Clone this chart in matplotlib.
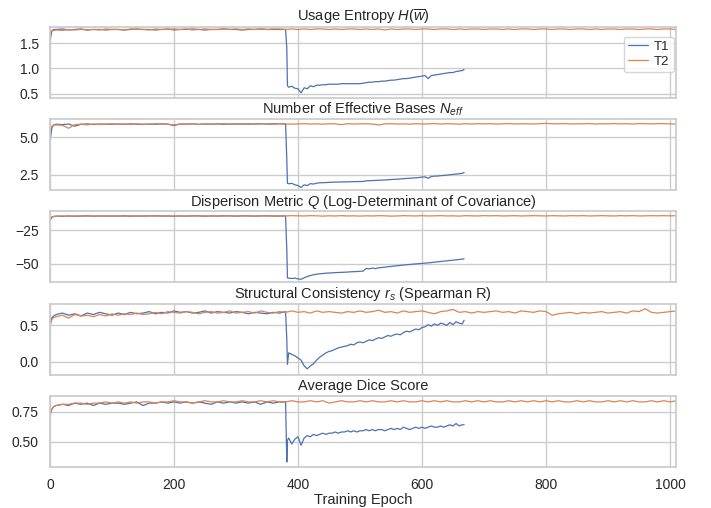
import numpy as np
import matplotlib
matplotlib.use("Agg")
import matplotlib.pyplot as plt
import seaborn as sns

epochs_t1 = [0, 3, 6] + list(range(10, 381, 10)) + [382, 383] + list(range(385, 666, 5)) + [668]
epochs_t2 = [0, 3, 6] + list(range(10, 1011, 10))

entropy_t1 = [1.55, 1.74, 1.77,
              1.77, 1.78, 1.76, 1.77, 1.78, 1.76, 1.77, 1.77, 1.76, 1.77,
              1.77, 1.76, 1.77, 1.78, 1.77, 1.77, 1.76, 1.77, 1.78, 1.76,
              1.77, 1.77, 1.78, 1.77, 1.76, 1.77, 1.77, 1.78, 1.77, 1.77,
              1.76, 1.77, 1.77, 1.78, 1.77, 1.77, 1.77, 1.77,
              1.40, 0.66,
              0.63, 0.65, 0.61, 0.60, 0.52, 0.62, 0.60, 0.66, 0.64, 0.67,
              0.67, 0.68, 0.68, 0.69, 0.69, 0.69, 0.69, 0.70, 0.70, 0.70,
              0.70, 0.70, 0.70, 0.70, 0.71, 0.72, 0.73, 0.73, 0.74, 0.74,
              0.75, 0.75, 0.76, 0.77, 0.77, 0.78, 0.79, 0.80, 0.80, 0.81,
              0.82, 0.83, 0.84, 0.85, 0.86, 0.80, 0.86, 0.87, 0.88, 0.89,
              0.90, 0.91, 0.92, 0.92, 0.94, 0.95, 0.96,
              0.98]
entropy_t2 = [1.70, 1.74, 1.75,
              1.76, 1.75, 1.77, 1.76, 1.77, 1.76, 1.77, 1.76, 1.78, 1.77,
              1.77, 1.76, 1.78, 1.77, 1.77, 1.76, 1.78, 1.77, 1.77, 1.78,
              1.77, 1.78, 1.76, 1.77, 1.78, 1.77, 1.77, 1.78, 1.77, 1.78,
              1.77, 1.78, 1.77, 1.78, 1.77, 1.78, 1.78, 1.77, 1.78, 1.77,
              1.78, 1.77, 1.78, 1.78, 1.77, 1.78, 1.77, 1.78, 1.78, 1.77,
              1.78, 1.77, 1.78, 1.76, 1.78, 1.77, 1.78, 1.78, 1.77, 1.78,
              1.78, 1.77, 1.78, 1.78, 1.77, 1.78, 1.77, 1.78, 1.78, 1.77,
              1.78, 1.78, 1.77, 1.78, 1.77, 1.78, 1.78, 1.77, 1.78, 1.78,
              1.77, 1.78, 1.78, 1.77, 1.78, 1.78, 1.77, 1.78, 1.77, 1.78,
              1.78, 1.77, 1.78, 1.78, 1.77, 1.78, 1.78, 1.77, 1.78, 1.78,
              1.77]

neff_t1 = [4.75, 5.60, 5.80,
           5.85, 5.82, 5.86, 5.72, 5.84, 5.87, 5.83, 5.86, 5.85, 5.84,
           5.86, 5.84, 5.87, 5.85, 5.83, 5.86, 5.84, 5.87, 5.85, 5.76,
           5.86, 5.85, 5.87, 5.84, 5.86, 5.85, 5.87, 5.84, 5.86, 5.85,
           5.87, 5.85, 5.86, 5.88, 5.86, 5.87, 5.88, 5.86,
           3.50, 1.95,
           1.92, 1.95, 1.85, 1.80, 1.68, 1.85, 1.80, 1.93, 1.90, 1.96,
           1.98, 1.99, 2.00, 2.01, 2.02, 2.03, 2.03, 2.04, 2.04, 2.05,
           2.05, 2.06, 2.06, 2.07, 2.07, 2.11, 2.12, 2.13, 2.14, 2.15,
           2.16, 2.17, 2.18, 2.20, 2.21, 2.22, 2.24, 2.25, 2.27, 2.28,
           2.30, 2.31, 2.33, 2.36, 2.37, 2.28, 2.40, 2.42, 2.43, 2.45,
           2.47, 2.49, 2.51, 2.54, 2.56, 2.58, 2.61,
           2.66]
neff_t2 = [5.50, 5.70, 5.78,
           5.80, 5.78, 5.58, 5.82, 5.85, 5.80, 5.86, 5.83, 5.85, 5.87,
           5.84, 5.86, 5.83, 5.87, 5.85, 5.84, 5.88, 5.86, 5.85, 5.80,
           5.86, 5.84, 5.88, 5.83, 5.87, 5.85, 5.86, 5.88, 5.84, 5.87,
           5.86, 5.88, 5.85, 5.87, 5.86, 5.84, 5.88, 5.86, 5.85, 5.87,
           5.88, 5.86, 5.87, 5.85, 5.88, 5.87, 5.82, 5.88, 5.86, 5.87,
           5.88, 5.86, 5.80, 5.87, 5.88, 5.86, 5.87, 5.85, 5.88, 5.86,
           5.87, 5.89, 5.86, 5.88, 5.87, 5.85, 5.88, 5.86, 5.88, 5.87,
           5.88, 5.86, 5.87, 5.89, 5.86, 5.88, 5.87, 5.86, 5.88, 5.90,
           5.88, 5.87, 5.89, 5.86, 5.88, 5.87, 5.89, 5.86, 5.88, 5.87,
           5.89, 5.87, 5.88, 5.86, 5.89, 5.88, 5.87, 5.89, 5.88, 5.87,
           5.86]

q_t1 = [-17.5, -15.2, -14.6,
        -14.3, -14.5, -14.2, -14.4, -14.3, -14.1, -14.4, -14.2, -14.3, -14.2,
        -14.3, -14.1, -14.4, -14.2, -14.3, -14.2, -14.1, -14.3, -14.2, -14.4,
        -14.2, -14.3, -14.1, -14.2, -14.4, -14.2, -14.3, -14.1, -14.2, -14.3,
        -14.1, -14.2, -14.3, -14.2, -14.1, -14.3, -14.2, -14.2,
        -40.0, -60.5,
        -60.8, -61.0, -60.7, -61.3, -61.6, -60.5, -59.5, -58.8, -58.2, -57.8,
        -57.5, -57.3, -57.0, -56.9, -56.8, -56.6, -56.5, -56.4, -56.3, -56.2,
        -56.0, -55.9, -55.8, -55.6, -55.5, -53.5, -53.8, -53.2, -53.6, -53.0,
        -52.8, -52.5, -52.2, -52.0, -51.7, -51.5, -51.2, -51.0, -50.7, -50.5,
        -50.3, -50.1, -49.9, -49.7, -49.5, -49.3, -49.1, -48.8, -48.5, -48.3,
        -48.0, -47.8, -47.5, -47.3, -47.0, -46.8, -46.5,
        -46.3]
q_t2 = [-16.0, -14.9, -14.6,
        -14.4, -14.2, -14.5, -14.3, -14.1, -14.4, -14.2, -14.3, -14.1, -14.3,
        -14.2, -14.4, -14.1, -14.3, -14.2, -14.0, -14.3, -14.1, -14.2, -14.4,
        -14.1, -14.3, -14.2, -14.0, -14.2, -14.3, -14.1, -14.2, -14.0, -14.3,
        -14.2, -14.1, -14.3, -14.0, -14.2, -14.1, -14.3, -14.2, -14.0, -14.1,
        -14.2, -14.0, -14.1, -14.3, -14.1, -14.2, -14.0, -14.2, -14.1, -14.3,
        -14.1, -14.2, -14.0, -14.1, -14.3, -14.2, -14.0, -14.1, -14.2, -14.0,
        -14.2, -14.1, -14.0, -14.2, -14.1, -14.3, -14.0, -14.1, -14.2, -14.0,
        -14.1, -14.0, -14.2, -14.1, -14.0, -14.2, -14.1, -14.0, -14.1, -14.2,
        -14.0, -14.1, -14.2, -14.0, -14.1, -14.0, -14.2, -14.1, -14.0, -14.1,
        -14.2, -14.0, -14.1, -14.0, -14.2, -14.1, -14.0, -14.1, -14.0, -14.1,
        -14.0]

rs_t1 = [0.50, 0.60, 0.63,
         0.65, 0.67, 0.64, 0.66, 0.63, 0.67, 0.65, 0.68, 0.66, 0.64,
         0.67, 0.65, 0.68, 0.66, 0.67, 0.69, 0.66, 0.68, 0.67, 0.70,
         0.68, 0.69, 0.67, 0.68, 0.70, 0.67, 0.69, 0.68, 0.67, 0.69,
         0.68, 0.66, 0.68, 0.67, 0.66, 0.68, 0.67, 0.69,
         0.30, -0.04,
         0.12, 0.10, 0.08, 0.05, 0.02, -0.06, -0.10, -0.06, -0.03, 0.02,
         0.06, 0.09, 0.12, 0.14, 0.15, 0.17, 0.19, 0.20, 0.21, 0.22,
         0.24, 0.23, 0.26, 0.27, 0.26, 0.28, 0.30, 0.29, 0.31, 0.33,
         0.32, 0.34, 0.36, 0.35, 0.37, 0.38, 0.37, 0.40, 0.42, 0.41,
         0.43, 0.45, 0.44, 0.47, 0.48, 0.51, 0.49, 0.52, 0.50, 0.53,
         0.52, 0.50, 0.54, 0.51, 0.55, 0.53, 0.52,
         0.57]
rs_t2 = [0.50, 0.58, 0.61,
         0.62, 0.64, 0.60, 0.65, 0.63, 0.64, 0.62, 0.65, 0.63, 0.66,
         0.64, 0.66, 0.65, 0.67, 0.65, 0.66, 0.68, 0.66, 0.69, 0.68,
         0.67, 0.69, 0.68, 0.66, 0.68, 0.69, 0.67, 0.68, 0.70, 0.67,
         0.68, 0.69, 0.67, 0.70, 0.68, 0.67, 0.69, 0.68, 0.70, 0.68,
         0.69, 0.67, 0.70, 0.68, 0.69, 0.68, 0.67, 0.69, 0.68, 0.70,
         0.68, 0.69, 0.71, 0.68, 0.69, 0.67, 0.70, 0.68, 0.69, 0.70,
         0.68, 0.66, 0.69, 0.70, 0.72, 0.68, 0.69, 0.67, 0.69, 0.68,
         0.69, 0.70, 0.68, 0.69, 0.67, 0.70, 0.69, 0.68, 0.70, 0.69,
         0.64, 0.66, 0.67, 0.68, 0.66, 0.68, 0.67, 0.68, 0.69, 0.67,
         0.68, 0.69, 0.67, 0.70, 0.69, 0.73, 0.68, 0.67, 0.68, 0.69,
         0.70]

dice_t1 = [0.72, 0.77, 0.79,
           0.80, 0.81, 0.80, 0.82, 0.81, 0.82, 0.80, 0.82, 0.81, 0.82,
           0.82, 0.81, 0.82, 0.83, 0.80, 0.82, 0.82, 0.83, 0.82, 0.83,
           0.82, 0.83, 0.82, 0.83, 0.82, 0.81, 0.83, 0.82, 0.83, 0.82,
           0.83, 0.82, 0.83, 0.81, 0.83, 0.82, 0.83, 0.83,
           0.33, 0.51,
           0.53, 0.48, 0.52, 0.54, 0.47, 0.53, 0.55, 0.54, 0.56, 0.55,
           0.56, 0.57, 0.56, 0.57, 0.57, 0.58, 0.57, 0.58, 0.58, 0.59,
           0.58, 0.59, 0.58, 0.59, 0.59, 0.60, 0.59, 0.60, 0.59, 0.60,
           0.60, 0.59, 0.60, 0.61, 0.60, 0.61, 0.60, 0.62, 0.61, 0.60,
           0.61, 0.62, 0.61, 0.62, 0.61, 0.62, 0.63, 0.62, 0.62, 0.63,
           0.62, 0.63, 0.64, 0.63, 0.65, 0.63, 0.64,
           0.64]
dice_t2 = [0.73, 0.77, 0.79,
           0.80, 0.81, 0.81, 0.82, 0.82, 0.81, 0.82, 0.82, 0.83, 0.82,
           0.83, 0.82, 0.83, 0.82, 0.83, 0.83, 0.82, 0.83, 0.83, 0.84,
           0.83, 0.83, 0.82, 0.83, 0.84, 0.83, 0.83, 0.84, 0.83, 0.83,
           0.84, 0.83, 0.83, 0.84, 0.83, 0.84, 0.83, 0.83, 0.84, 0.83,
           0.83, 0.84, 0.83, 0.84, 0.82, 0.83, 0.84, 0.83, 0.83, 0.84,
           0.83, 0.84, 0.83, 0.83, 0.84, 0.83, 0.84, 0.83, 0.83, 0.84,
           0.83, 0.84, 0.83, 0.84, 0.83, 0.83, 0.84, 0.83, 0.84, 0.83,
           0.84, 0.83, 0.83, 0.84, 0.83, 0.84, 0.83, 0.84, 0.83, 0.84,
           0.83, 0.84, 0.83, 0.83, 0.84, 0.83, 0.84, 0.83, 0.83, 0.84,
           0.83, 0.84, 0.83, 0.84, 0.83, 0.83, 0.84, 0.83, 0.84, 0.83,
           0.84]

titles = [r"Usage Entropy $H(\overline{w})$",
          r"Number of Effective Bases $N_{eff}$",
          r"Disperison Metric $Q$ (Log-Determinant of Covariance)",
          r"Structural Consistency $r_s$ (Spearman R)",
          "Average Dice Score"]
series = [(entropy_t1, entropy_t2), (neff_t1, neff_t2), (q_t1, q_t2),
          (rs_t1, rs_t2), (dice_t1, dice_t2)]
ylims = [(0.42, 1.82), (1.5, 6.18), (-63.9, -10.8), (-0.18, 0.80), (0.29, 0.88)]
yticks = [[0.5, 1.0, 1.5], [2.5, 5.0], [-50, -25], [0.0, 0.5], [0.50, 0.75]]

sns.set_theme(style="whitegrid")
plt.rcParams['font.family'] = ['Liberation Sans', 'DejaVu Sans']
plt.rcParams['mathtext.fontset'] = 'custom'
plt.rcParams['mathtext.rm'] = 'Liberation Sans'
plt.rcParams['mathtext.it'] = 'Liberation Sans:italic'
plt.rcParams['axes.unicode_minus'] = True

fig, axes = plt.subplots(5, 1, sharex=True, figsize=(7.11, 5.08), dpi=100)
fig.subplots_adjust(left=0.0703, right=0.951, top=0.947, bottom=0.081, hspace=0.30)

for i, ax in enumerate(axes):
    t1, t2 = series[i]
    ax.plot(epochs_t1, t1, color='#4C72B0', lw=0.9, label='T1')
    ax.plot(epochs_t2, t2, color='#DD8452', lw=0.9, label='T2')
    ax.set_title(titles[i], fontsize=10.5, pad=4)
    ax.set_ylim(*ylims[i])
    ax.set_yticks(yticks[i])
    ax.tick_params(axis='both', labelsize=10, pad=2)
    ax.set_xlim(0, 1010)
    ax.set_xticks([0, 200, 400, 600, 800, 1000])

axes[0].legend(loc='upper right', bbox_to_anchor=(0.996, 0.86), borderaxespad=0,
               fontsize=9.5, handlelength=1.5, borderpad=0.3, labelspacing=0.2,
               handletextpad=0.5)
axes[-1].set_xlabel("Training Epoch", fontsize=10.5, labelpad=1)

fig.savefig("out.png", dpi=100)
